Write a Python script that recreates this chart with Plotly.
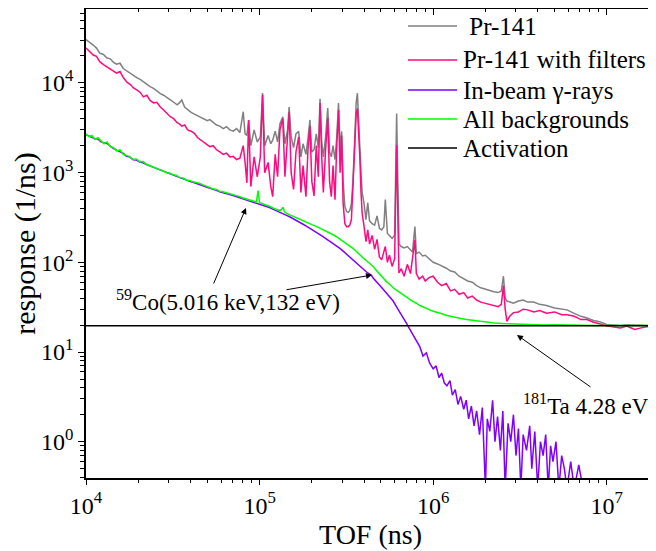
import plotly.graph_objects as go

# ---------------- data ----------------
tof_pr = [1.00e4, 1.05e4, 1.10e4, 1.15e4, 1.20e4, 1.26e4, 1.32e4, 1.38e4, 1.44e4, 1.50e4,
          1.57e4, 1.64e4, 1.72e4, 1.80e4, 1.88e4, 1.97e4, 2.06e4, 2.14e4, 2.24e4, 2.34e4,
          2.45e4, 2.56e4, 2.68e4, 2.80e4, 2.93e4, 3.06e4, 3.20e4, 3.35e4, 3.45e4, 3.56e4,
          3.70e4, 3.85e4, 4.03e4, 4.21e4, 4.40e4, 4.60e4, 4.80e4, 5.00e4, 5.17e4, 5.40e4,
          5.65e4, 5.90e4, 6.17e4, 6.45e4, 6.74e4, 7.05e4, 7.37e4, 7.70e4, 8.05e4, 8.25e4,
          8.45e4, 8.65e4, 8.90e4, 9.30e4, 9.70e4, 1.01e5, 1.04e5, 1.07e5, 1.12e5, 1.16e5,
          1.19e5, 1.23e5, 1.27e5, 1.31e5, 1.36e5, 1.40e5, 1.45e5, 1.48e5, 1.52e5, 1.57e5,
          1.62e5, 1.68e5, 1.73e5, 1.78e5, 1.85e5, 1.90e5, 1.95e5, 2.00e5, 2.06e5, 2.12e5,
          2.18e5, 2.23e5, 2.28e5, 2.33e5, 2.40e5, 2.47e5, 2.53e5, 2.59e5, 2.65e5, 2.72e5,
          2.78e5, 2.85e5, 2.91e5, 2.97e5, 3.03e5, 3.10e5, 3.17e5, 3.24e5, 3.31e5, 3.38e5,
          3.45e5, 3.52e5, 3.60e5, 3.66e5, 3.72e5, 3.78e5, 3.84e5, 3.90e5, 4.00e5, 4.10e5,
          4.20e5, 4.30e5, 4.45e5, 4.60e5, 4.75e5, 4.90e5, 5.05e5, 5.20e5, 5.30e5, 5.45e5,
          5.60e5, 5.80e5, 6.00e5, 6.10e5, 6.16e5, 6.25e5, 6.35e5, 6.55e5, 6.80e5, 7.10e5,
          7.40e5, 7.60e5, 7.85e5, 8.00e5, 8.30e5, 8.70e5, 9.00e5, 9.50e5, 1.00e6, 1.06e6,
          1.12e6, 1.19e6, 1.26e6, 1.33e6, 1.41e6, 1.50e6, 1.58e6, 1.68e6, 1.78e6, 1.88e6,
          2.00e6, 2.11e6, 2.24e6, 2.37e6, 2.47e6, 2.54e6, 2.60e6, 2.66e6, 2.76e6, 2.90e6,
          3.10e6, 3.30e6, 3.50e6, 3.80e6, 4.10e6, 4.50e6, 5.00e6, 5.50e6, 5.90e6, 6.50e6,
          7.10e6, 7.70e6, 8.40e6, 9.10e6, 1.00e7, 1.10e7, 1.20e7, 1.30e7, 1.45e7, 1.60e7,
          1.75e7, 1.90e7, 2.00e7]

pr141 = [30500, 28500, 26500, 24500, 21500, 20800, 19000, 18600, 17000, 16200,
         16600, 14500, 13600, 12600, 12100, 11400, 10900, 10300, 9700, 9100,
         8700, 8100, 7600, 7300, 6800, 6500, 6100, 5700, 6000, 6460,
         5400, 5000, 4700, 4500, 4300, 4100, 4000, 3800, 3900, 3600,
         3400, 3300, 3100, 3250, 3000, 2900, 3100, 2800, 4780, 2700,
         2600, 3800, 2000, 3000, 2200, 2500, 7700, 2000, 2600, 2100,
         2300, 2900, 2200, 3500, 4200, 2100, 3000, 5400, 2500, 1900,
         2700, 2900, 1500, 2100, 1600, 2400, 3870, 1700, 1800, 2700,
         1900, 6660, 2200, 1500, 2500, 5250, 1700, 1500, 2000, 1400,
         2400, 5980, 1800, 2900, 800, 420, 370, 360, 380, 450,
         800, 2000, 6000, 7700, 3500, 2500, 1000, 600, 450, 300,
         460, 290, 270, 260, 330, 240, 230, 250, 500, 210,
         200, 185, 200, 1500, 4580, 900, 160, 150, 145, 150,
         138, 130, 250, 125, 130, 118, 120, 110, 100, 96,
         92, 86, 80, 78, 70, 66, 62, 60, 55, 52,
         50, 48, 47, 46, 48, 70, 40, 37, 36, 35,
         37, 38, 36, 36, 34, 33, 31, 30, 29.5, 27,
         25, 24, 22.5, 21.8, 20.3, 20, 19.8, 20.1, 19.8, 19.9,
         19.7, 19.8, 19.7]

pr141_filters = [24500, 22500, 20500, 19800, 17300, 16000, 15200, 14300, 13600, 12900,
                 13400, 11500, 10200, 9600, 8800, 8300, 7800, 7000, 7300, 6400,
                 6000, 6100, 5400, 5000, 4600, 4200, 4000, 3600, 3500, 3300,
                 3400, 3000, 2900, 2750, 2450, 2300, 2200, 2050, 1950, 2000,
                 1800, 1700, 1600, 1650, 1500, 1520, 1400, 1450, 2000, 1300,
                 770, 3870, 700, 1500, 900, 1500, 7400, 1000, 1300, 700,
                 540, 1600, 900, 3000, 4000, 900, 2200, 4700, 1000, 650,
                 1700, 2500, 600, 1200, 540, 1800, 3300, 800, 550, 2000,
                 900, 5980, 1500, 600, 1800, 4070, 800, 540, 1200, 500,
                 1900, 5000, 1000, 2600, 450, 270, 250, 250, 260, 300,
                 700, 1800, 4500, 5220, 3000, 1500, 600, 350, 250, 170,
                 230, 160, 200, 140, 180, 115, 107, 130, 150, 100,
                 120, 90, 110, 800, 2040, 400, 76, 85, 70, 95,
                 75, 110, 178, 75, 65, 70, 62, 68, 70, 60,
                 55, 58, 48, 50, 44, 46, 40, 42, 38, 36,
                 35, 34, 33, 32, 34, 55, 30, 22, 25, 27.5,
                 28, 30, 29.5, 28, 29, 27, 28, 26, 26, 25,
                 23, 23, 21.5, 20.5, 19.6, 19, 18.5, 19.5, 17.8, 18.7,
                 19.4, 19.0, 19.3]

tof_gamma = [1.00e4, 1.04e4, 1.08e4, 1.12e4, 1.17e4, 1.22e4, 1.27e4, 1.32e4, 1.38e4, 1.44e4,
             1.50e4, 1.57e4, 1.64e4, 1.71e4, 1.79e4, 1.87e4, 1.95e4, 2.04e4, 2.13e4, 2.23e4,
             2.33e4, 2.43e4, 2.54e4, 2.66e4, 2.78e4, 2.90e4, 3.03e4, 3.17e4, 3.31e4, 3.46e4,
             3.62e4, 3.78e4, 3.95e4, 4.13e4, 4.32e4, 4.51e4, 4.72e4, 4.93e4, 5.15e4, 5.39e4,
             5.63e4, 5.89e4, 6.15e4, 6.43e4, 6.72e4, 7.03e4, 7.34e4, 7.68e4, 8.03e4, 8.39e4,
             8.77e4, 9.17e4, 9.58e4, 1.00e5, 1.05e5, 1.09e5, 1.14e5, 1.20e5, 1.25e5, 1.31e5,
             1.37e5, 1.43e5, 1.49e5, 1.56e5, 1.63e5, 1.70e5, 1.78e5, 1.86e5, 1.94e5, 2.03e5,
             2.13e5, 2.22e5, 2.32e5, 2.42e5, 2.53e5, 2.65e5, 2.77e5, 2.89e5, 3.02e5, 3.16e5,
             3.30e5, 3.45e5, 3.60e5, 3.78e5, 3.95e5, 4.13e5, 4.31e5, 4.40e5, 4.51e5, 4.71e5,
             4.93e5, 5.15e5, 5.38e5, 5.62e5, 5.88e5, 6.14e5, 6.42e5, 6.71e5, 7.01e5, 7.33e5,
             7.66e5, 8.00e5, 8.37e5, 8.74e5, 9.14e5, 9.55e5, 1.00e6, 1.04e6, 1.08e6, 1.12e6,
             1.16e6, 1.20e6, 1.25e6, 1.29e6, 1.34e6, 1.39e6, 1.44e6, 1.50e6, 1.55e6, 1.60e6,
             1.66e6, 1.72e6, 1.78e6, 1.85e6, 1.92e6, 2.00e6, 2.05e6, 2.12e6, 2.20e6, 2.27e6,
             2.35e6, 2.44e6, 2.52e6, 2.60e6, 2.70e6, 2.80e6, 2.90e6, 3.00e6, 3.10e6, 3.20e6,
             3.30e6, 3.45e6, 3.60e6, 3.70e6, 3.85e6, 4.00e6, 4.15e6, 4.30e6, 4.45e6, 4.60e6,
             4.75e6, 4.90e6, 5.10e6, 5.30e6, 5.50e6, 5.70e6, 5.90e6, 6.20e6, 6.50e6, 6.90e6,
             7.30e6]

inbeam_gamma = [2650, 2550, 2480, 2400, 2380, 2200, 2150, 2120, 1980, 1850,
                1780, 1720, 1640, 1520, 1490, 1390, 1380, 1310, 1290, 1230,
                1190, 1150, 1110, 1070, 1030, 990, 970, 930, 910, 870,
                850, 820, 800, 780, 760, 745, 715, 690, 675, 650,
                635, 610, 600, 585, 570, 555, 540, 530, 510, 495,
                480, 470, 458, 450, 435, 420, 408, 390, 378, 362,
                350, 334, 322, 305, 292, 280, 266, 254, 242, 228,
                214, 204, 193, 183, 173, 162, 153, 144, 134, 124,
                115, 106, 98, 90, 84, 78, 74, 72, 67, 60,
                55, 50, 45, 41, 37, 32, 28, 24, 21, 18,
                15.5, 13, 11.5, 9, 9.8, 7.5, 6.5, 7, 5.2, 5.8,
                4.5, 4.2, 4.8, 3.3, 3.8, 2.6, 3.2, 2.3, 2.9, 1.8,
                2.5, 1.5, 2.2, 1.2, 2.4, 0.3, 1.8, 1.3, 2.9, 1.0,
                1.9, 0.8, 2.2, 0.3, 1.6, 1.0, 2.0, 0.7, 1.4, 0.3,
                1.2, 0.8, 1.5, 0.5, 1.3, 0.3, 1.0, 0.7, 1.2, 0.3,
                0.9, 0.6, 1.0, 0.3, 0.7, 0.5, 0.3, 0.6, 0.3, 0.55,
                0.3]

tof_bg = [1.00e4, 1.04e4, 1.08e4, 1.12e4, 1.17e4, 1.22e4, 1.27e4, 1.32e4, 1.38e4, 1.44e4,
          1.50e4, 1.57e4, 1.64e4, 1.71e4, 1.79e4, 1.87e4, 1.95e4, 2.04e4, 2.13e4, 2.23e4,
          2.33e4, 2.43e4, 2.54e4, 2.66e4, 2.78e4, 2.90e4, 3.03e4, 3.17e4, 3.31e4, 3.46e4,
          3.62e4, 3.78e4, 3.95e4, 4.13e4, 4.32e4, 4.51e4, 4.72e4, 4.93e4, 5.15e4, 5.39e4,
          5.63e4, 5.89e4, 6.15e4, 6.43e4, 6.72e4, 7.03e4, 7.34e4, 7.68e4, 8.03e4, 8.39e4,
          8.77e4, 9.17e4, 9.58e4, 9.80e4, 1.00e5, 1.05e5, 1.09e5, 1.14e5, 1.20e5, 1.25e5,
          1.31e5, 1.37e5, 1.39e5, 1.43e5, 1.49e5, 1.56e5, 1.63e5, 1.70e5, 1.78e5, 1.86e5,
          1.94e5, 2.03e5, 2.12e5, 2.22e5, 2.32e5, 2.42e5, 2.53e5, 2.65e5, 2.77e5, 2.89e5,
          3.02e5, 3.16e5, 3.30e5, 3.45e5, 3.60e5, 3.78e5, 3.95e5, 4.13e5, 4.31e5, 4.51e5,
          4.71e5, 4.93e5, 5.15e5, 5.38e5, 5.62e5, 5.88e5, 6.14e5, 6.42e5, 6.71e5, 7.01e5,
          7.33e5, 7.66e5, 8.00e5, 8.37e5, 8.74e5, 9.14e5, 9.55e5, 1.00e6, 1.05e6, 1.10e6,
          1.20e6, 1.30e6, 1.40e6, 1.55e6, 1.70e6, 1.86e6, 2.05e6, 2.25e6, 2.50e6, 2.90e6,
          3.30e6, 3.80e6, 4.40e6, 5.00e6, 6.00e6, 7.00e6, 8.50e6, 1.00e7, 1.30e7, 1.60e7,
          2.00e7]

all_backgrounds = [2700, 2520, 2600, 2350, 2450, 2250, 2100, 2200, 1950, 1900,
                   1750, 1800, 1600, 1560, 1500, 1400, 1420, 1320, 1330, 1240,
                   1200, 1180, 1120, 1080, 1050, 1000, 990, 950, 930, 880,
                   870, 830, 820, 790, 780, 760, 730, 705, 690, 660,
                   650, 620, 612, 598, 580, 570, 550, 540, 522, 505,
                   492, 482, 470, 630, 462, 448, 432, 422, 402, 392,
                   376, 410, 365, 352, 342, 326, 314, 302, 290, 280,
                   270, 260, 252, 242, 232, 222, 213, 203, 193, 183,
                   173, 163, 153, 143, 133, 120, 112, 104, 97, 90,
                   81, 73, 66, 61, 57, 52, 49, 46, 43, 41,
                   38.5, 36.5, 35, 33, 32, 30.5, 29.5, 28.5, 27.5, 27,
                   25.5, 24.5, 24, 23, 22.5, 21.8, 21.5, 21.1, 20.8, 20.5,
                   20.3, 20.2, 20.0, 20.1, 19.9, 20.0, 19.8, 19.8, 19.7, 19.8,
                   19.7]

activation_tof = [1.0e4, 2.0e7]
activation = [19.6, 19.6]

x_major = [1e4, 1e5, 1e6, 1e7]
x_major_text = ["10<sup>4</sup>", "10<sup>5</sup>", "10<sup>6</sup>", "10<sup>7</sup>"]
x_minor = [2e4, 3e4, 4e4, 5e4, 6e4, 7e4, 8e4, 9e4,
           2e5, 3e5, 4e5, 5e5, 6e5, 7e5, 8e5, 9e5,
           2e6, 3e6, 4e6, 5e6, 6e6, 7e6, 8e6, 9e6,
           2e7, 3e7]
y_major = [1e0, 1e1, 1e2, 1e3, 1e4]
y_major_text = ["10<sup>0</sup>", "10<sup>1</sup>", "10<sup>2</sup>", "10<sup>3</sup>", "10<sup>4</sup>"]
y_minor = [0.4, 0.5, 0.6, 0.7, 0.8, 0.9,
           2, 3, 4, 5, 6, 7, 8, 9,
           20, 30, 40, 50, 60, 70, 80, 90,
           200, 300, 400, 500, 600, 700, 800, 900,
           2000, 3000, 4000, 5000, 6000, 7000, 8000, 9000,
           20000, 30000, 40000, 50000, 60000]

series = [
    ("\u00a0Pr-141", tof_pr, pr141, "#808080"),
    ("Pr-141 with filters", tof_pr, pr141_filters, "#ff0a80"),
    ("In-beam \u03b3-rays", tof_gamma, inbeam_gamma, "#8000ff"),
    ("All backgrounds", tof_bg, all_backgrounds, "#00ff00"),
    ("Activation", activation_tof, activation, "#000000"),
]

FONT = "Liberation Serif"
X_RANGE = [4.0, 7.278]
Y_RANGE = [-0.405, 4.825]
# the page body has an 8 px margin: figure is sized so that the plot area lands on
# page pixels [86, 655] x [9, 478]
BODY = 8
W, H = 648, 543
PLOT_L, PLOT_R, PLOT_T, PLOT_B = 86, 655, 9, 478


def px_to_paper(px, py):
    return (px - PLOT_L) / (PLOT_R - PLOT_L), (PLOT_B - py) / (PLOT_B - PLOT_T)


fig = go.Figure()
for name, xs, ys, col in series:
    fig.add_trace(go.Scatter(x=xs, y=ys, name=name, mode="lines", showlegend=False,
                             line=dict(color=col, width=1.5)))

# dummy trace to materialise the mirrored (top/right) axes
fig.add_trace(go.Scatter(x=[1e5], y=[100], xaxis="x2", yaxis="y2", mode="markers",
                         marker=dict(opacity=0), showlegend=False, hoverinfo="skip"))

axis_common = dict(type="log", showgrid=False, zeroline=False, showline=True,
                   linecolor="black", linewidth=1.5, tickcolor="black", tickwidth=1.2,
                   automargin=False)

fig.update_layout(
    width=W, height=H,
    margin=dict(l=PLOT_L - BODY, r=BODY + W - PLOT_R, t=PLOT_T - BODY,
                b=BODY + H - PLOT_B, autoexpand=False),
    paper_bgcolor="white", plot_bgcolor="white",
    font=dict(family=FONT, color="black"),
    showlegend=False,
    xaxis=dict(**axis_common, range=X_RANGE, ticks="outside", ticklen=5,
               tickmode="array", tickvals=x_major, ticktext=x_major_text,
               tickfont=dict(family=FONT, size=24),
               minor=dict(tickmode="array", tickvals=x_minor, ticks="outside", ticklen=3,
                          tickcolor="black", showgrid=False),
               title=dict(text="TOF (ns)", font=dict(family=FONT, size=28), standoff=0)),
    yaxis=dict(**axis_common, range=Y_RANGE, ticks="outside", ticklen=6,
               tickmode="array", tickvals=y_major, ticktext=y_major_text,
               tickfont=dict(family=FONT, size=24),
               minor=dict(tickmode="array", tickvals=y_minor, ticks="outside", ticklen=4,
                          tickcolor="black", showgrid=False),
               title=dict(text="response (1/ns)", font=dict(family=FONT, size=30), standoff=2)),
    xaxis2=dict(**axis_common, range=X_RANGE, overlaying="x", side="top", anchor="y2",
                ticks="inside", ticklen=6, tickmode="array", tickvals=x_major,
                showticklabels=False,
                minor=dict(tickmode="array", tickvals=x_minor, ticks="inside", ticklen=3,
                           tickcolor="black", showgrid=False)),
    yaxis2=dict(**axis_common, range=Y_RANGE, overlaying="y", side="right", anchor="x2",
                ticks="inside", ticklen=6, tickmode="array", tickvals=y_major,
                showticklabels=False,
                minor=dict(tickmode="array", tickvals=y_minor, ticks="inside", ticklen=3,
                           tickcolor="black", showgrid=False)),
)

# ---- legend drawn as line samples + text (positions in page pixels) ----
legend_rows_y = [26, 60, 90, 119, 148]
for (name, _, _, col), ry in zip(series, legend_rows_y):
    x0, y0 = px_to_paper(408, ry)
    x1, _ = px_to_paper(457, ry)
    fig.add_shape(type="line", xref="paper", yref="paper", x0=x0, x1=x1, y0=y0, y1=y0,
                  line=dict(color=col, width=1.5))
    tx, ty = px_to_paper(461, ry)
    fig.add_annotation(xref="paper", yref="paper", x=tx, y=ty, xanchor="left", yanchor="middle",
                       text=name, showarrow=False,
                       font=dict(family=FONT, size=25, color="black"))

ann_font = dict(family=FONT, size=23, color="black")
tx, ty = px_to_paper(228, 300)
fig.add_annotation(xref="paper", yref="paper", x=tx, y=ty, xanchor="center", yanchor="middle",
                   text="<sup>59</sup>Co(5.016 keV,132 eV)", showarrow=False, font=ann_font)
tx, ty = px_to_paper(586, 404)
fig.add_annotation(xref="paper", yref="paper", x=tx, y=ty, xanchor="center", yanchor="middle",
                   text="<sup>181</sup>Ta 4.28 eV", showarrow=False, font=ann_font)
arrow = dict(xref="paper", yref="paper", text="", showarrow=True, arrowhead=2,
             arrowsize=1.2, arrowwidth=1, arrowcolor="black")
for (hx, hy), (tx_, ty_) in [((246, 208), (213, 285)),
                             ((372, 275), (285, 290)),
                             ((517, 335), (592, 388))]:
    ax_, ay_ = px_to_paper(hx, hy)
    fig.add_annotation(x=ax_, y=ay_, ax=tx_ - hx, ay=ty_ - hy, **arrow)

fig.write_html("out.html")
